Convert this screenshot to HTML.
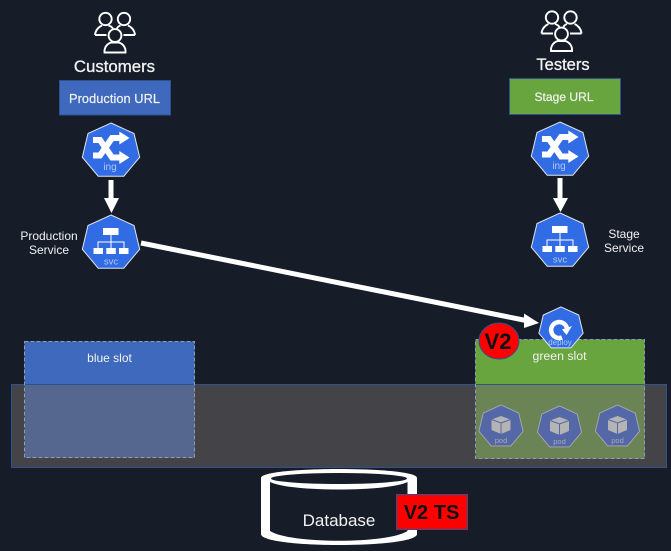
<!DOCTYPE html>
<html><head><meta charset="utf-8"><style>
html,body{margin:0;padding:0;background:#161c28}
svg{display:block}
text{font-family:"Liberation Sans",sans-serif;fill:#f2f2f2;text-anchor:middle}
</style></head><body>
<svg width="671" height="551" viewBox="0 0 671 551" xmlns="http://www.w3.org/2000/svg">
<defs>
<polygon id="h" points="0,-28 23,-17.5 28.7,6.2 12.8,25.2 -12.8,25.2 -28.7,6.2 -23,-17.5"/>
<g id="people" fill="none" stroke="#fff" stroke-width="1.9">
<circle cx="105.5" cy="19" r="6.2"/><circle cx="124" cy="19" r="6.2"/><circle cx="115" cy="35.5" r="6.4"/>
<path d="M95,35 C95.500,29.500 99.500,26.500 102,25.500 M108.500,25.500 C110,26 112,27 113,28.500 M95,35 H106.500"/>
<path d="M135,35 C134.500,29.500 130.500,26.500 128,25.500 M120.500,25.500 C119,26 117.500,27 117,28.500 M135,35 H123.500"/>
<path d="M104.500,52.500 C104,46.500 108,43.500 111,42.500 H119 C122,43.500 126,46.500 125.500,52.500 Z"/>
</g>
<g id="ing">
<use href="#h" fill="#326ce5" stroke="#dfe4ee" stroke-width="1"/>
<path d="M-18,-11 H-11 L1,6.500 H9 M-18,4.500 H-11 L1,-13 H9" fill="none" stroke="#fff" stroke-width="6"/>
<polygon points="8.300,-19.500 18.500,-13 8.300,-6.500" fill="#fff"/><polygon points="8.300,0 18.500,6.500 8.300,13" fill="#fff"/>
<text x="-1" y="19" font-size="10" style="fill:#b4c8f4">ing</text>
</g>
<g id="svc">
<use href="#h" fill="#326ce5" stroke="#dfe4ee" stroke-width="1"/>
<g fill="#fff"><rect x="-8" y="-15" width="15.500" height="7"/><rect x="-17.500" y="5" width="9.500" height="6"/><rect x="-4.700" y="5" width="9.500" height="6"/><rect x="8" y="5" width="9.500" height="6"/></g>
<path d="M0,-8 V5 M-13,5 V-1 H13 V5" fill="none" stroke="#fff" stroke-width="1"/>
<text x="0" y="21.500" font-size="9.500" style="fill:#b4c8f4">svc</text>
</g>
<g id="pod">
<use href="#h" transform="scale(.77 .77)" fill="#5468a8" stroke="#a8a8ae" stroke-width="1.200"/>
<polygon points="0,-10.500 9.500,-7 9.500,3.500 0,7.500 -9.500,3.500 -9.500,-7" fill="#b4b4b4"/>
<path d="M-9.500,-7 L0,-3.500 L9.500,-7 M0,-3.500 V7.500" fill="none" stroke="#5468a8" stroke-width="1"/>
<text x="0" y="16.500" font-size="7.500" style="fill:#a8a8ae">pod</text>
</g>
</defs>

<rect width="671" height="551" fill="#161c28"/>

<use href="#people"/>
<use href="#people" transform="translate(446.5,-1.5)"/>
<text x="114.500" y="72" font-size="16.800" stroke="#f2f2f2" stroke-width=".3">Customers</text>
<text x="563" y="70" font-size="16.500" stroke="#f2f2f2" stroke-width=".3">Testers</text>

<rect x="59.500" y="80.500" width="111" height="34.500" fill="#3e69bd" stroke="#2f528f"/>
<text x="114.500" y="103" font-size="12.800" textLength="91" stroke="#f2f2f2" stroke-width=".2">Production URL</text>
<rect x="509.500" y="78.500" width="111" height="36" fill="#69a53f" stroke="#2f528f"/>
<text x="564" y="101" font-size="12" textLength="59" stroke="#f2f2f2" stroke-width=".2">Stage URL</text>

<use href="#ing" transform="translate(111,151)"/>
<use href="#ing" transform="translate(560,150)"/>
<use href="#svc" transform="translate(111,243)"/>
<use href="#svc" transform="translate(560,241)"/>

<rect x="108.500" y="180" width="5" height="19" fill="#fff"/><polygon points="104,198 119,198 111.500,213" fill="#fff"/>
<rect x="557.500" y="178" width="5" height="21" fill="#fff"/><polygon points="553,198 568,198 560.500,212" fill="#fff"/>

<text x="49" y="240" font-size="12">Production</text>
<text x="49" y="254" font-size="12">Service</text>
<text x="624" y="238" font-size="12">Stage</text>
<text x="624" y="252" font-size="12">Service</text>

<!-- slots -->
<rect x="24.500" y="341.500" width="170" height="116" fill="#3e69bd"/>
<rect x="475.500" y="339.500" width="169" height="119" fill="#69a53f"/>
<!-- band -->
<rect x="11.500" y="384.500" width="655" height="83" fill="#444448" stroke="#2f528f"/>
<rect x="25" y="385" width="169.500" height="72.500" fill="#55678e"/>
<rect x="476" y="385" width="168.500" height="73.500" fill="#6a8456"/>
<line x1="24.500" y1="384.500" x2="194.500" y2="384.500" stroke="#2f528f"/>
<line x1="475.500" y1="384.500" x2="644.500" y2="384.500" stroke="#2f528f"/>
<rect x="24.500" y="341.500" width="170" height="116" fill="none" stroke="#8d9cb8" stroke-dasharray="4 2"/>
<rect x="475.500" y="339.500" width="169" height="119" fill="none" stroke="#8d9cb8" stroke-dasharray="4 2"/>

<text x="109.500" y="362" font-size="12">blue slot</text>
<text x="559.500" y="360" font-size="12.300">green slot</text>

<use href="#pod" transform="translate(501,426.5)"/>
<use href="#pod" transform="translate(559.5,427.5)"/>
<use href="#pod" transform="translate(617.5,426.5)"/>

<!-- long arrow -->
<line x1="141" y1="243" x2="526" y2="320.500" stroke="#fff" stroke-width="5"/>
<polygon points="539,323 524,313.500 524,328" fill="#fff"/>

<!-- deploy -->
<g transform="translate(561,328.5)">
<use href="#h" transform="scale(.77 .77)" fill="#326ce5" stroke="#dfe4ee" stroke-width="1.300"/>
<path d="M1,9 A8,8 0 1 1 6,0" fill="none" stroke="#fff" stroke-width="4.500"/>
<polygon points="1,1 11,-2.500 5.500,6.500" fill="#fff"/>
<text x="-1" y="16.500" font-size="8" style="fill:#b4c8f4">deploy</text>
</g>

<ellipse cx="499" cy="341" rx="20" ry="18" fill="#ff0000" stroke="#2f528f"/>
<text x="498" y="349" font-size="22" font-weight="bold" style="fill:#111">V2</text>

<!-- database -->
<path d="M261,478 C261,466 417,466 417,478 L417,534 C417,548.700 261,548.700 261,534 Z" fill="#fff"/>
<ellipse cx="339" cy="478.500" rx="68" ry="5.500" fill="#161c28"/>
<path d="M270,482 C290,492 388,492 407.500,482 L407.500,531 C388,544 290,544 270,531 Z" fill="#161c28"/>
<text x="339" y="526" font-size="17">Database</text>

<rect x="396.500" y="494.500" width="71" height="35" fill="#ff0000" stroke="#2f528f"/>
<text x="431.500" y="519" font-size="20" font-weight="bold" style="fill:#111">V2 TS</text>
</svg>
</body></html>
